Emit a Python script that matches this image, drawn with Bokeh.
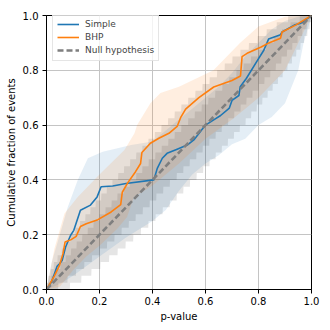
import math
from bokeh.plotting import figure
from bokeh.models import Range1d, FixedTicker, Legend, LegendItem
from bokeh.embed import file_html
from bokeh.resources import INLINE

# ---- data ----
simple_x = [0.0, 0.02, 0.040, 0.049, 0.059, 0.072, 0.091, 0.103, 0.128, 0.166, 0.191, 0.206, 0.25, 0.30,
            0.405, 0.418, 0.437, 0.455, 0.493, 0.531, 0.556, 0.60, 0.631, 0.657, 0.69, 0.70, 0.726, 0.731,
            0.754, 0.792, 0.82, 0.838, 0.883, 0.889, 0.935, 0.96, 1.0]
simple_y = [0.0, 0.03, 0.085, 0.094, 0.106, 0.155, 0.198, 0.216, 0.289, 0.308, 0.338, 0.375, 0.378, 0.387,
            0.40, 0.442, 0.479, 0.497, 0.512, 0.527, 0.546, 0.60, 0.619, 0.635, 0.662, 0.69, 0.708, 0.74,
            0.77, 0.83, 0.873, 0.914, 0.93, 0.94, 0.965, 0.972, 1.0]

bhp_x = [0.0, 0.03, 0.049, 0.062, 0.07, 0.093, 0.112, 0.128, 0.15, 0.194, 0.244, 0.28, 0.286, 0.307, 0.336,
         0.355, 0.36, 0.392, 0.424, 0.462, 0.493, 0.506, 0.525, 0.575, 0.631, 0.70, 0.732, 0.738, 0.757,
         0.81, 0.839, 0.883, 0.889, 0.94, 1.0]
bhp_y = [0.0, 0.05, 0.088, 0.13, 0.173, 0.182, 0.194, 0.23, 0.24, 0.255, 0.283, 0.31, 0.355, 0.39, 0.43,
         0.46, 0.50, 0.534, 0.552, 0.57, 0.595, 0.627, 0.658, 0.70, 0.739, 0.763, 0.779, 0.85, 0.862,
         0.885, 0.90, 0.917, 0.94, 0.965, 1.0]

simple_hi_x = [0.0, 0.02, 0.05, 0.08, 0.118, 0.156, 0.212, 0.32, 0.4, 0.45, 0.5, 0.55, 0.6, 0.65, 0.7, 0.75,
               0.8, 0.85, 0.9, 0.95, 1.0]
simple_hi_y = [0.0, 0.1, 0.2, 0.3, 0.4, 0.479, 0.503, 0.527, 0.54, 0.58, 0.62, 0.66, 0.7, 0.74, 0.79, 0.85,
               0.9, 0.95, 0.98, 0.995, 1.0]
simple_lo_x = [0.0, 0.05, 0.1, 0.2, 0.3, 0.4, 0.45, 0.5, 0.55, 0.6, 0.65, 0.7, 0.75, 0.8, 0.85, 0.9, 0.95,
               0.97, 1.0]
simple_lo_y = [0.0, 0.02, 0.05, 0.12, 0.19, 0.25, 0.29, 0.36, 0.42, 0.46, 0.49, 0.53, 0.55, 0.6, 0.63, 0.68,
               0.8, 0.9, 1.0]

bhp_hi_x = [0.0, 0.03, 0.068, 0.118, 0.2, 0.294, 0.332, 0.342, 0.392, 0.43, 0.5, 0.63, 0.73, 0.8, 0.9, 1.0]
bhp_hi_y = [0.0, 0.15, 0.277, 0.338, 0.42, 0.509, 0.57, 0.6, 0.68, 0.717, 0.74, 0.8, 0.9, 0.96, 0.995, 1.0]
bhp_lo_x = [0.0, 0.05, 0.1, 0.15, 0.2, 0.267, 0.304, 0.33, 0.4, 0.5, 0.6, 0.7, 0.75, 0.8, 0.9, 1.0]
bhp_lo_y = [0.0, 0.01, 0.07, 0.12, 0.16, 0.222, 0.265, 0.338, 0.38, 0.46, 0.55, 0.62, 0.66, 0.7, 0.8, 1.0]

n_events = 40
conf_levels = [0.68, 0.95]
tick_values = [0.0, 0.2, 0.4, 0.6, 0.8, 1.0]
tick_labels = ["0.0", "0.2", "0.4", "0.6", "0.8", "1.0"]

# ---- null-hypothesis binomial bands ----
def binom_ppf(q, n, prob):
    c = 0.0
    for k in range(n + 1):
        c += math.comb(n, k) * prob ** k * (1 - prob) ** (n - k)
        if c >= q - 1e-12:
            return k
    return n

grid_x = [i / 1000 for i in range(1001)]

FONT = "DejaVu Sans"
p = figure(frame_width=265, frame_height=274, output_backend="svg", toolbar_location=None,
           x_range=Range1d(0, 1), y_range=Range1d(0, 1),
           min_border_left=46, min_border_right=15, min_border_top=15, min_border_bottom=35)

for ci in conf_levels:
    e = (1 - ci) / 2
    up = [binom_ppf(1 - e, n_events, xv) / n_events for xv in grid_x]
    lo = [binom_ppf(e, n_events, xv) / n_events for xv in grid_x]
    up[0] = 0
    lo[0] = 0
    p.varea(x=grid_x, y1=lo, y2=up, fill_color="black", fill_alpha=0.1)

p.patch(simple_hi_x + simple_lo_x[::-1], simple_hi_y + simple_lo_y[::-1],
        fill_color="#1f77b4", fill_alpha=0.12, line_color=None)
p.patch(bhp_hi_x + bhp_lo_x[::-1], bhp_hi_y + bhp_lo_y[::-1],
        fill_color="#ff7f0e", fill_alpha=0.13, line_color=None)

r1 = p.line(simple_x, simple_y, line_color="#1f77b4", line_width=1.6)
r2 = p.line(bhp_x, bhp_y, line_color="#ff7f0e", line_width=1.6)
r3 = p.line([0, 1], [0, 1], line_color="#7f7f7f", line_width=2.6, line_dash="6 3")

legend = Legend(items=[LegendItem(label="Simple", renderers=[r1]),
                       LegendItem(label="BHP", renderers=[r2]),
                       LegendItem(label="Null hypothesis", renderers=[r3])],
                location=(6, 228), label_text_font=FONT, label_text_font_size="9px",
                glyph_width=22, glyph_height=12, label_height=12, label_standoff=6,
                padding=4, spacing=1, margin=0,
                border_line_color="#cccccc", background_fill_alpha=0.8)
p.add_layout(legend, "center")

for ax in (p.xaxis[0], p.yaxis[0]):
    ax.ticker = FixedTicker(ticks=tick_values)
    ax.major_label_overrides = {v: s for v, s in zip(tick_values, tick_labels)}
    ax.major_label_text_font = FONT
    ax.major_label_text_font_size = "10px"
    ax.major_label_text_color = "black"
    ax.axis_label_text_font = FONT
    ax.axis_label_text_font_size = "10px"
    ax.axis_label_text_font_style = "normal"
    ax.axis_label_text_color = "black"
    ax.major_tick_out = 4
    ax.major_tick_in = 0
    ax.minor_tick_out = 0
    ax.minor_tick_in = 0
    ax.axis_line_color = "black"
    ax.major_tick_line_color = "black"

p.xaxis.axis_label = "p-value"
p.yaxis.axis_label = "Cumulative fraction of events"
p.xaxis.major_label_standoff = 3
p.yaxis.major_label_standoff = 4
p.xaxis.axis_label_standoff = 3
p.yaxis.axis_label_standoff = 3

p.grid.grid_line_color = "#c4c4c4"
p.grid.grid_line_width = 1
p.outline_line_color = "black"
p.outline_line_width = 1

open("out.html", "w").write(file_html(p, INLINE))
